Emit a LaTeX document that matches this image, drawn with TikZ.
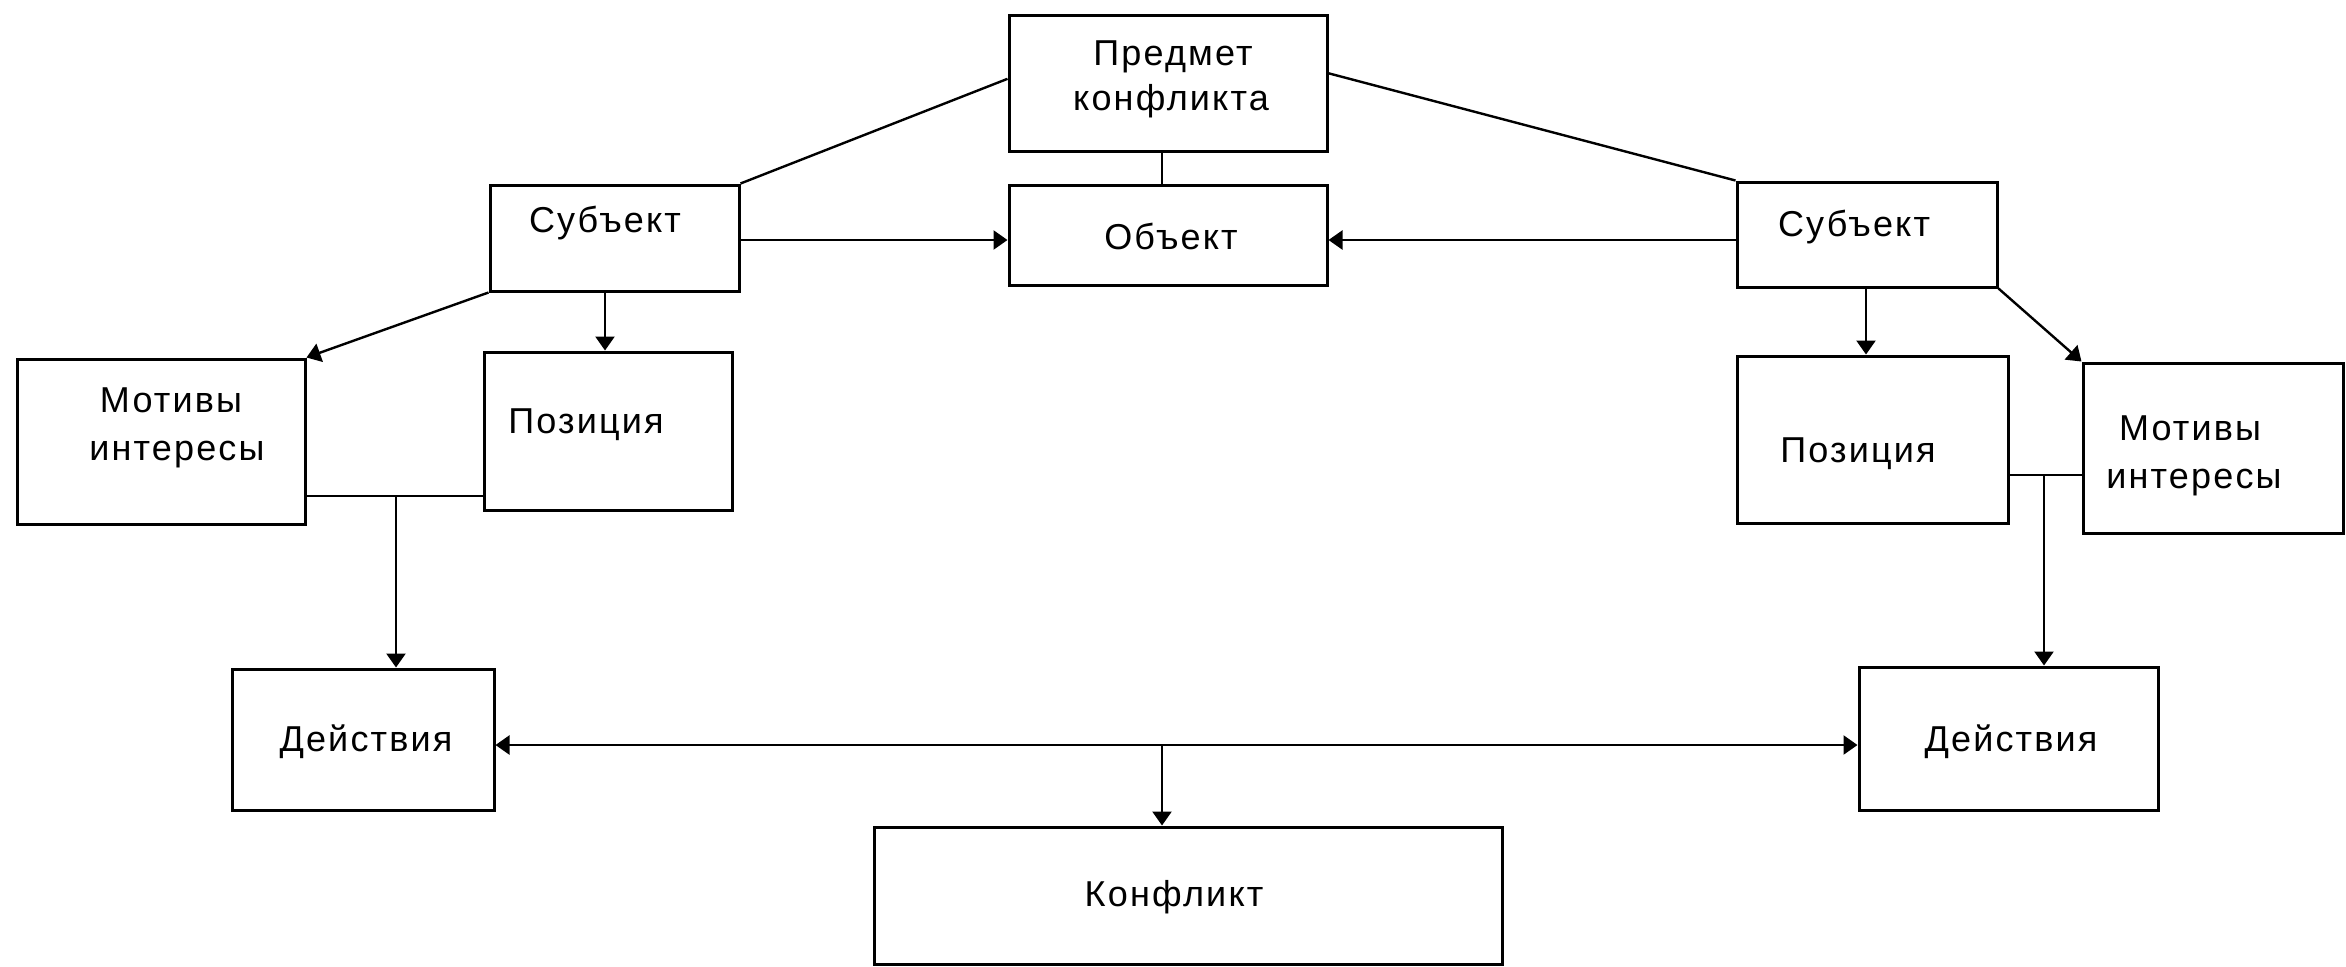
\documentclass[tikz,border=0pt]{standalone}
\usepackage{fontspec}
\setmainfont{Liberation Sans}[LetterSpace=6]
\usetikzlibrary{arrows.meta,fit,calc}
\tikzset{
  box/.style={draw, line width=1.5pt, inner sep=0pt, fill=white},
  lbl/.style={anchor=base, inner sep=0pt, font=\fontsize{18}{22}\selectfont},
  conn/.style={line width=1.2pt},
  arr/.style={conn, -{Triangle[length=7pt,width=9.5pt]}},
  darr/.style={conn, {Triangle[length=7pt,width=9.5pt]}-{Triangle[length=7pt,width=9.5pt]}}
}
\begin{document}
\begin{tikzpicture}[x=0.5pt,y=-0.5pt]
\useasboundingbox[fill=white] (0,0) rectangle (2346,966);
% boxes
\node[box, fit={(1009,15) (1327,151)}] (pred) {};
\node[box, fit={(1009,185) (1327,285)}] (obj) {};
\node[box, fit={(490,185) (739,291)}] (subL) {};
\node[box, fit={(1737,182) (1997,287)}] (subR) {};
\node[box, fit={(17,359) (305,524)}] (motL) {};
\node[box, fit={(484,352) (732,510)}] (posL) {};
\node[box, fit={(1737,356) (2008,523)}] (posR) {};
\node[box, fit={(2083,363) (2343,533)}] (motR) {};
\node[box, fit={(232,669) (494,810)}] (actL) {};
\node[box, fit={(1859,667) (2158,810)}] (actR) {};
\node[box, fit={(874,827) (1502,964)}] (konf) {};
% texts
\node[lbl] (tpred1) at (1173,65) {Предмет};
\node[lbl] (tpred2) at (1171,110) {конфликта};
\node[lbl] (tobj) at (1171,249) {Объект};
\node[lbl] (tsubL) at (605,232) {Субъект};
\node[lbl] (tsubR) at (1854,236) {Субъект};
\node[lbl] (tmotL1) at (171,412) {Мотивы};
\node[lbl] (tmotL2) at (177,460) {интересы};
\node[lbl] (tposL) at (586,433) {Позиция};
\node[lbl] (tposR) at (1858,462) {Позиция};
\node[lbl] (tmotR1) at (2190,440) {Мотивы};
\node[lbl] (tmotR2) at (2194,488) {интересы};
\node[lbl] (tactL) at (366,751) {Действия};
\node[lbl] (tactR) at (2011,751) {Действия};
\node[lbl] (tkonf) at (1174,906) {Конфликт};
% junction points
\coordinate (jP) at (1162,0);
\coordinate (jSL) at (605,0);
\coordinate (jSR) at (1866,0);
\coordinate (jL) at (396,496);
\coordinate (jR) at (2044,475);
\coordinate (jC) at (1162,745);
\coordinate (ySO) at (0,240);
% connectors
\draw[conn] (jP |- pred.south) -- (jP |- obj.north);
\draw[conn] (subL.north east) -- ($(pred.north west)!0.47!(pred.south west)$);
\draw[conn] ($(pred.north east)!0.43!(pred.south east)$) -- (subR.north west);
\draw[arr] (subL.east |- ySO) -- (obj.west |- ySO);
\draw[arr] (subR.west |- ySO) -- (obj.east |- ySO);
\draw[arr] (subL.south west) -- (motL.north east);
\draw[arr] (subR.south east) -- (motR.north west);
\draw[arr] (jSL |- subL.south) -- (jSL |- posL.north);
\draw[arr] (jSR |- subR.south) -- (jSR |- posR.north);
\draw[conn] (motL.east |- jL) -- (posL.west |- jL);
\draw[arr] (jL) -- (jL |- actL.north);
\draw[conn] (posR.east |- jR) -- (motR.west |- jR);
\draw[arr] (jR) -- (jR |- actR.north);
\draw[darr] (actL.east |- jC) -- (actR.west |- jC);
\draw[arr] (jC) -- (jC |- konf.north);
\end{tikzpicture}
\end{document}
